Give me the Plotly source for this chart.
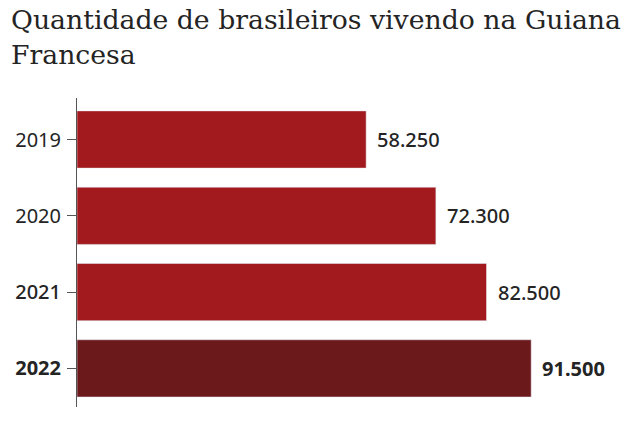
import plotly.graph_objects as go

YEARS = ["2019", "2020", "2021", "2022"]
BRAZILIANS = [58250, 72300, 82500, 91500]
VALUE_LABELS = ["58.250", "72.300", "82.500", "91.500"]
TICK_LABELS = ["2019", "2020", "<span style='font-weight:500'>2021</span>", "<b>2022</b>"]

RED = "#a21a1d"
DARK_RED = "#6c191b"
TEXT = "#242424"
AXIS = "#555555"

colors = [RED, RED, RED, DARK_RED]

fig = go.Figure()

fig.add_trace(go.Bar(
    x=BRAZILIANS, y=YEARS, orientation="h",
    marker=dict(color=colors),
    hoverinfo="skip"
))

# value labels right of the bars, last one bold like its year
# (annotations on a category axis take the category index)
for i in range(len(YEARS)):
    weight = 700 if i == len(YEARS) - 1 else 500
    fig.add_annotation(
        x=BRAZILIANS[i], y=i, xref="x", yref="y",
        text=VALUE_LABELS[i], showarrow=False,
        xanchor="left", yanchor="middle", xshift=9,
        font=dict(family="Noto Sans", size=20, color=TEXT, weight=weight)
    )

# title as an annotation so both lines sit where they should
fig.add_annotation(
    text="Quantidade de brasileiros vivendo na Guiana<br>Francesa",
    xref="paper", yref="paper", x=0, y=1,
    xanchor="left", yanchor="top", align="left",
    xshift=-68, yshift=96, showarrow=False,
    font=dict(family="DejaVu Serif", size=26.7, color=TEXT)
)

fig.update_layout(
    width=633, height=441,
    margin=dict(l=77, r=10, t=98, b=34),
    paper_bgcolor="white", plot_bgcolor="white",
    showlegend=False,
    bargap=0.25,
    xaxis=dict(visible=False, range=[0, 110000]),
    yaxis=dict(
        type="category", categoryorder="array", categoryarray=YEARS,
        range=[3.506, -0.544],
        tickmode="array", tickvals=YEARS, ticktext=TICK_LABELS,
        showline=True, linecolor=AXIS, linewidth=1,
        ticks="outside", ticklen=9, tickcolor=AXIS, tickwidth=1,
        ticklabelstandoff=2,
        showgrid=False, zeroline=False,
        tickfont=dict(family="Noto Sans", size=20, color=TEXT)
    ),
)

fig.write_html("out.html", config={"displayModeBar": False},
               post_script="document.body.style.margin='0';")
